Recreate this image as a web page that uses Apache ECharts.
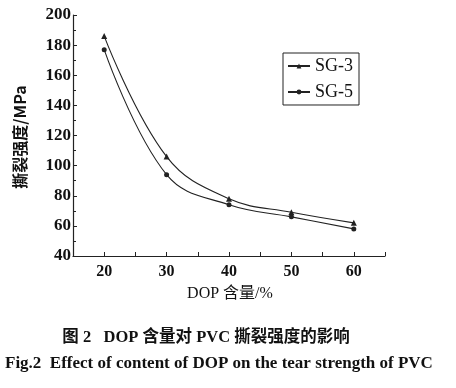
<!DOCTYPE html>
<html><head><meta charset="utf-8">
<script src="https://cdn.jsdelivr.net/npm/echarts@6/dist/echarts.min.js"></script>
<style>html,body{margin:0;padding:0;background:#fff}#c{width:456px;height:388px}</style>
</head><body><div id="c"></div>
<script>
const xValues = [20, 30, 40, 50, 60];
const sg3 = [186, 106, 78, 69, 62];
const sg5 = [177, 94, 74, 66, 58];
const seriesNames = ['SG-3', 'SG-5'];
const yAxisName = '撕裂强度/MPa';
const xAxisName = 'DOP 含量/%';
const captionCN = '图 2   DOP 含量对 PVC 撕裂强度的影响';
const captionEN = 'Fig.2  Effect of content of DOP on the tear strength of PVC';

const serif = '"Liberation Serif", "Noto Sans CJK SC", serif';
const chart = echarts.init(document.getElementById('c'));
chart.setOption({
  backgroundColor: '#fff',
  animation: false,
  grid: {left: 73, right: 71, top: 15, bottom: 132},
  legend: {
    data: seriesNames, orient: 'vertical', left: 283, top: 53,
    width: 77, itemWidth: 22, itemHeight: 6, itemGap: 8,
    padding: [4, 6, 4, 4], borderColor: '#222', borderWidth: 1,
    textStyle: {fontFamily: serif, fontSize: 18, color: '#111'}
  },
  xAxis: {
    type: 'value', min: 15, max: 65, interval: 5,
    axisLine: {lineStyle: {color: '#222', width: 1.2}},
    axisTick: {inside: true, length: 4, lineStyle: {color: '#222'}},
    axisLabel: {fontFamily: serif, fontSize: 16, fontWeight: 'bold', color: '#111', margin: 8,
      formatter: v => (v % 10 === 0 && v >= 20 && v <= 60) ? String(v) : ''},
    splitLine: {show: false}
  },
  yAxis: {
    type: 'value', min: 40, max: 200, interval: 20,
    axisLine: {show: true, lineStyle: {color: '#222', width: 1.2}},
    axisTick: {show: true, inside: true, length: 4, lineStyle: {color: '#222'}},
    minorTick: {show: true, splitNumber: 2, length: 3, lineStyle: {color: '#222'}},
    axisLabel: {fontFamily: serif, fontSize: 17, fontWeight: 'bold', color: '#111', margin: 2},
    splitLine: {show: false}
  },
  series: [
    {name: seriesNames[0], type: 'line', smooth: 0.4, symbol: 'triangle', symbolSize: 6,
     data: xValues.map((x, i) => [x, sg3[i]]),
     lineStyle: {color: '#222', width: 1.1}, itemStyle: {color: '#222'}},
    {name: seriesNames[1], type: 'line', smooth: 0.4, symbol: 'circle', symbolSize: 5,
     data: xValues.map((x, i) => [x, sg5[i]]),
     lineStyle: {color: '#222', width: 1.1}, itemStyle: {color: '#222'}}
  ],
  graphic: [
    {type: 'text', rotation: Math.PI / 2, x: 20, y: 137,
     style: {text: yAxisName, font: 'bold 16px "Noto Sans CJK SC", sans-serif', fill: '#111',
       textAlign: 'center', textVerticalAlign: 'middle'}},
    {type: 'text', x: 230, y: 294, style: {text: xAxisName, font: '16px ' + serif, fill: '#111',
       textAlign: 'center', textVerticalAlign: 'middle'}},
    {type: 'text', x: 206, y: 338, style: {text: captionCN, font: 'bold 16.5px ' + serif, fill: '#111',
       textAlign: 'center', textVerticalAlign: 'middle'}},
    {type: 'text', x: 5, y: 364, style: {text: captionEN, font: 'bold 17px ' + serif, fill: '#111',
       textAlign: 'left', textVerticalAlign: 'middle'}}
  ]
});
</script></body></html>
